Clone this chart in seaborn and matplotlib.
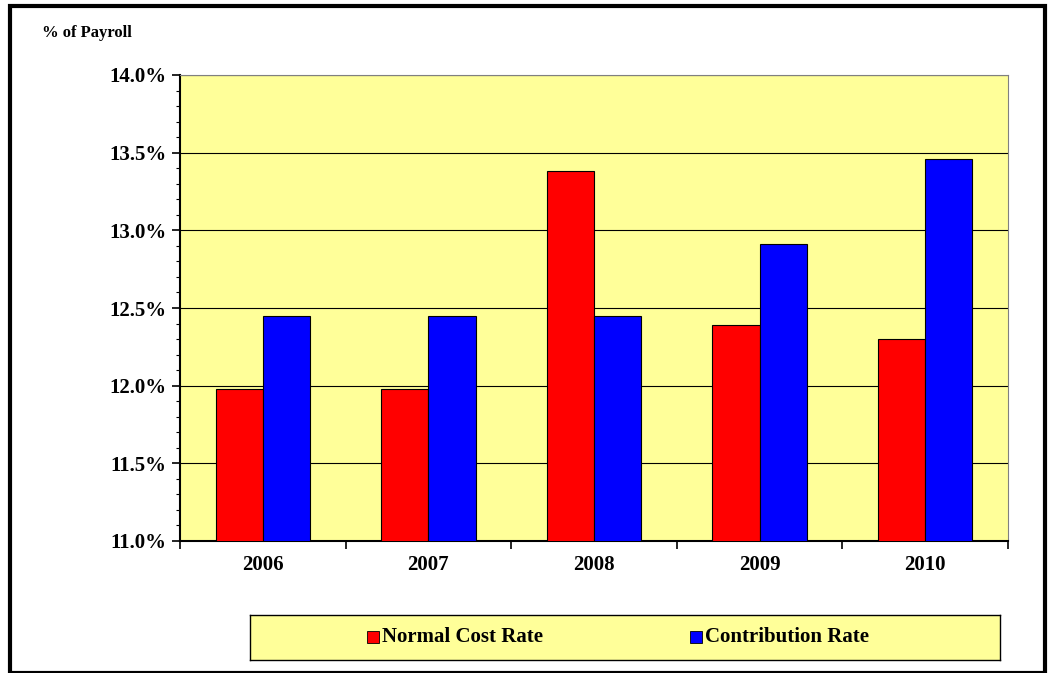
import matplotlib
matplotlib.use("Agg")
import matplotlib.pyplot as plt
import seaborn as sns
import pandas as pd
from matplotlib.ticker import MultipleLocator, FuncFormatter
from matplotlib.patches import Rectangle

years = ["2006", "2007", "2008", "2009", "2010"]
normal_cost = [11.98, 11.98, 13.38, 12.39, 12.30]
contribution = [12.45, 12.45, 12.45, 12.91, 13.46]
series_names = ["Normal Cost Rate", "Contribution Rate"]

df = pd.DataFrame({
    "year": years * 2,
    "value": normal_cost + contribution,
    "series": [series_names[0]] * 5 + [series_names[1]] * 5,
})

sns.set_style("white")
plt.rcParams["font.family"] = ["Liberation Serif", "DejaVu Serif"]
plt.rcParams["font.weight"] = "bold"
plt.rcParams["text.color"] = "black"
plt.rcParams["xtick.color"] = "black"
plt.rcParams["ytick.color"] = "black"
plt.rcParams["xtick.labelcolor"] = "black"
plt.rcParams["ytick.labelcolor"] = "black"

fig = plt.figure(figsize=(10.54, 6.73), dpi=100)
ax = fig.add_axes([180/1054, 1-541/673, (1008-180)/1054, (541-75)/673])
ax.set_facecolor("#FFFF99")
sns.barplot(data=df, x="year", y="value", hue="series",
            palette=["#FF0000", "#0000FF"], saturation=1, width=0.57,
            edgecolor="black", linewidth=0.8, ax=ax, legend=False, zorder=3)
ax.set_ylim(11.0, 14.0)
ax.yaxis.set_major_locator(MultipleLocator(0.5))
ax.yaxis.set_minor_locator(MultipleLocator(0.1))
ax.yaxis.set_major_formatter(FuncFormatter(lambda v, p: f"{v:.1f}%"))
ax.grid(axis="y", which="major", color="black", linewidth=0.8, zorder=0)
ax.set_axisbelow(True)
for s in ax.spines.values():
    s.set_color("#808080")
ax.spines["left"].set_color("black")
ax.spines["bottom"].set_color("black")
ax.spines["left"].set_linewidth(1.5)
ax.spines["bottom"].set_linewidth(1.5)
ax.tick_params(axis="y", which="major", direction="out", length=6, width=1.2, labelsize=15, left=True)
ax.tick_params(axis="y", which="minor", direction="out", length=3, width=0.8, left=True)
ax.tick_params(axis="x", direction="out", length=0, labelsize=15, pad=10, bottom=True)
ax.set_xticks([i + 0.5 for i in range(-1, 5)], minor=True)
ax.tick_params(axis="x", which="minor", length=6, width=1.2, bottom=True)
for lbl in ax.get_xticklabels() + ax.get_yticklabels():
    lbl.set_fontweight("bold")
ax.set_xlabel("")
ax.set_ylabel("")

fig.text(42/1054, 1-33/673, "% of Payroll", fontsize=12, fontweight="bold", va="center")

fig.patches.append(Rectangle((10/1054, 0), (1045-10)/1054, 1-6/673, transform=fig.transFigure,
                             fill=False, edgecolor="black", linewidth=3))

lax = fig.add_axes([250/1054, 1-660/673, (1000-250)/1054, 45/673])
lax.set_facecolor("#FFFF99")
lax.set_xticks([]); lax.set_yticks([])
for s in lax.spines.values():
    s.set_color("black"); s.set_linewidth(1)
lax.set_xlim(0, 750); lax.set_ylim(0, 45)
lax.add_patch(Rectangle((117, 17), 12, 12, facecolor="#FF0000", edgecolor="black", linewidth=0.6))
lax.text(132, 22.5, series_names[0], fontsize=15, fontweight="bold", va="center")
lax.add_patch(Rectangle((440, 17), 12, 12, facecolor="#0000FF", edgecolor="black", linewidth=0.6))
lax.text(455, 22.5, series_names[1], fontsize=15, fontweight="bold", va="center")

fig.savefig("out.png", dpi=100)
